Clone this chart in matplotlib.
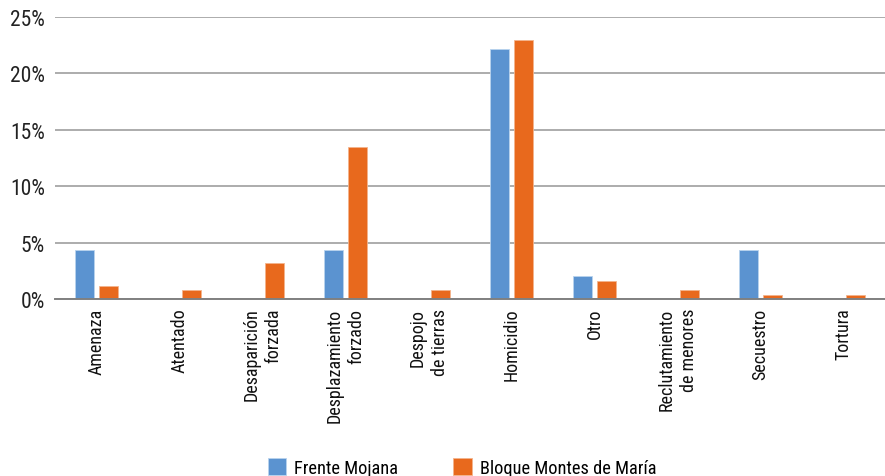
import matplotlib.pyplot as plt
import numpy as np

# categorias y porcentajes por grupo
categorias = ['Amenaza', 'Atentado', 'Desaparición\nforzada', 'Desplazamiento\nforzado',
              'Despojo\nde tierras', 'Homicidio', 'Otro', 'Reclutamiento\nde menores',
              'Secuestro', 'Tortura']
frente_mojana = [4.4, 0, 0, 4.4, 0, 22.2, 2.1, 0, 4.4, 0]
bloque_montes = [1.2, 0.8, 3.2, 13.5, 0.8, 23.0, 1.6, 0.8, 0.4, 0.4]
yticks = [0, 5, 10, 15, 20, 25]

azul = '#5B93D0'
naranja = '#E8691D'
narrow = ['Roboto Condensed', 'Liberation Sans Narrow', 'Roboto', 'DejaVu Sans']

fig = plt.figure(figsize=(8.85, 4.77), dpi=100)
ax = fig.add_axes([0.062, 0.3704, 0.938, 0.5920])

x = np.arange(len(categorias))
w = 0.223
off = 0.143
ax.bar(x - off, frente_mojana, w, color=azul, edgecolor='#B9D3EE', linewidth=0.6,
       label='Frente Mojana', zorder=3)
ax.bar(x + off, bloque_montes, w, color=naranja, edgecolor='#F4B48C', linewidth=0.6,
       label='Bloque Montes de María', zorder=3)

ax.set_xlim(-0.5, len(categorias) - 0.5)
ax.set_ylim(0, 25)
ax.set_yticks(yticks)
ax.set_yticklabels([f'{t}%' for t in yticks], family=narrow, fontsize=15.5, color='#222222')
ax.grid(axis='y', color='#A6A6A6', linewidth=1.3, zorder=0)
for s in ['top', 'right', 'left']:
    ax.spines[s].set_visible(False)
ax.spines['bottom'].set_color('#808080')
ax.spines['bottom'].set_linewidth(1.4)
ax.spines['bottom'].set_zorder(4)
ax.tick_params(length=0, pad=7)

ax.set_xticks(x)
ax.set_xticklabels(categorias, rotation=90, fontsize=13, family=narrow,
                   color='#111111', va='top', ha='center', multialignment='right',
                   linespacing=1.3)
ax.tick_params(axis='x', pad=6)

leg = fig.legend(loc='lower center', bbox_to_anchor=(0.522, -0.036), ncol=2, frameon=False,
                 prop={'family': narrow, 'size': 13.2}, handlelength=1.0, handleheight=1.0,
                 columnspacing=3.0, handletextpad=0.45)

fig.savefig('out.png', dpi=100)
